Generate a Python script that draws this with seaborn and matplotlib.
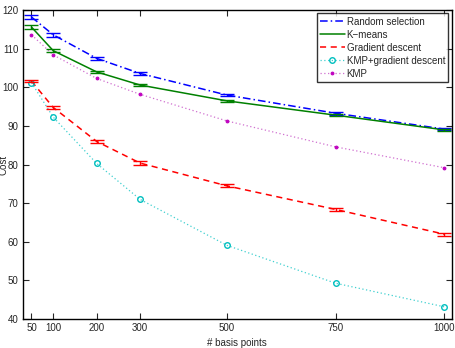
import numpy as np
import pandas as pd
import matplotlib
matplotlib.use("Agg")
import matplotlib.pyplot as plt
import seaborn as sns

sns.set_style("ticks")
plt.rcParams['font.family'] = ['Liberation Sans', 'DejaVu Sans']

# data
basis = [50, 100, 200, 300, 500, 750, 1000]
random_sel = [118.2, 113.6, 107.5, 103.6, 98.0, 93.3, 89.2]
random_err = [0.6, 0.5, 0.4, 0.3, 0.3, 0.4, 0.3]
kmeans = [115.6, 109.5, 104.0, 100.6, 96.5, 92.8, 89.0]
kmeans_err = [0.6, 0.4, 0.3, 0.3, 0.2, 0.2, 0.2]
grad = [101.6, 94.8, 86.0, 80.4, 74.5, 68.4, 62.0]
grad_err = [0.3, 0.3, 0.4, 0.5, 0.4, 0.3, 0.4]
kmp_grad = [101.2, 92.3, 80.3, 71.0, 59.1, 49.3, 43.2]
kmp = [113.6, 108.4, 102.3, 98.2, 91.3, 84.6, 79.2]

df = pd.DataFrame({"n": basis, "Random selection": random_sel, "K\u2212means": kmeans,
                   "Gradient descent": grad, "KMP+gradient descent": kmp_grad, "KMP": kmp})

fig = plt.figure(figsize=(4.56, 3.48), dpi=100)
ax = fig.add_axes([0.05, 0.083, 0.941, 0.888])

sns.lineplot(data=df, x="n", y="Random selection", ax=ax, color="#0000ff", lw=1.1,
             linestyle=(0, (5, 2, 1, 2)), label="Random selection")
sns.lineplot(data=df, x="n", y="K\u2212means", ax=ax, color="#008000", lw=1.1, label="K\u2212means")
sns.lineplot(data=df, x="n", y="Gradient descent", ax=ax, color="#ff0000", lw=1.1,
             linestyle=(0, (4, 3)), label="Gradient descent")
sns.lineplot(data=df, x="n", y="KMP+gradient descent", ax=ax, color="#40d0d0", lw=0.9,
             linestyle=(0, (1, 2)), marker="o", markersize=4, markerfacecolor="none",
             markeredgecolor="#00bfbf", markeredgewidth=1.0, label="KMP+gradient descent")
sns.lineplot(data=df, x="n", y="KMP", ax=ax, color="#d070d0", lw=0.9,
             linestyle=(0, (1, 2)), marker=".", markersize=4, markerfacecolor="#bf00bf",
             markeredgecolor="#bf00bf", label="KMP")

for y, e, c in [(random_sel, random_err, "#0000ff"), (kmeans, kmeans_err, "#008000"),
                (grad, grad_err, "#ff0000")]:
    ax.errorbar(basis, y, yerr=e, fmt="none", ecolor=c, elinewidth=1.0, capsize=5, capthick=1.0)

ax.set_xlim(30, 1018)
ax.set_ylim(40, 120)
ax.set_xticks(basis)
ax.set_yticks(np.arange(40, 121, 10))
ax.tick_params(direction="in", length=4, width=0.8, labelsize=7, top=True, right=True, pad=3)
for s in ax.spines.values():
    s.set_linewidth(1.0)
    s.set_color("black")
ax.set_xlabel("# basis points", fontsize=7, labelpad=1)
ax.set_ylabel("Cost", fontsize=7, labelpad=0)
ax.xaxis.set_label_coords(0.5, -0.06)
ax.yaxis.set_label_coords(-0.033, 0.5)

leg = ax.legend(loc="upper right", fontsize=7, frameon=True, fancybox=False, borderpad=0.35,
                labelspacing=0.3, handlelength=2.5, handletextpad=0.2, borderaxespad=0.35)
leg.get_frame().set_edgecolor("black")
leg.get_frame().set_linewidth(1.0)

fig.savefig("out.png", dpi=100)
